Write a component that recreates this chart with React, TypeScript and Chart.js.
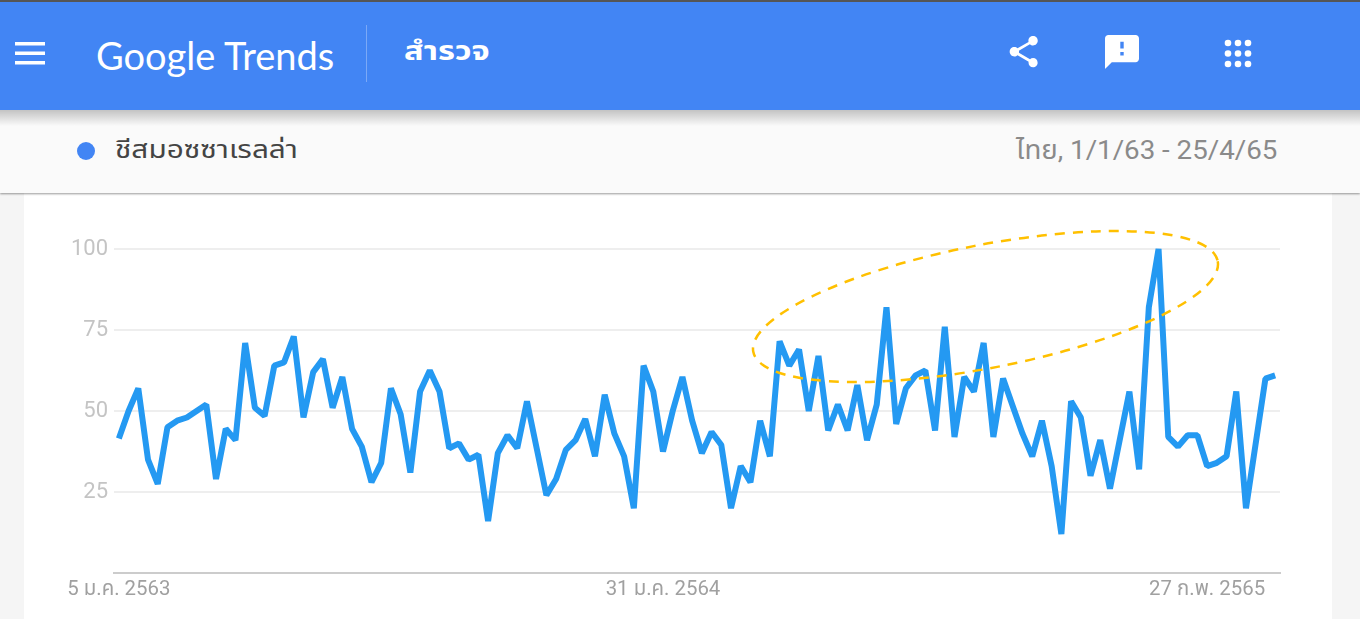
import React, { useEffect, useRef } from "react";
import { Chart, registerables } from "chart.js";

Chart.register(...registerables);

const SERIES_NAME = "ชีสมอซซาเรลล่า";
const DATE_RANGE = "ไทย, 1/1/63 - 25/4/65";
const TICK_LABELS: Record<number, string> = {
  0: "5 ม.ค. 2563",
  56: "31 ม.ค. 2564",
  112: "27 ก.พ. 2565",
};
const VALUES = [
  41.5, 50, 57, 35, 27.5, 45, 47, 48, 50, 52,
  29, 44.5, 41, 71, 51, 48.5, 64, 65, 73, 48,
  62, 66, 51, 60.5, 44.5, 39, 28, 34, 57, 49,
  31, 56, 62.5, 56, 38.5, 40, 35, 36.5, 16, 37,
  42.5, 38.5, 53, 38.5, 24, 29, 38, 41, 47.5, 36,
  55, 43, 36, 20, 64, 56, 37.5, 50, 60.5, 47,
  37, 43.5, 39.5, 20, 33, 28, 47, 36, 71.5, 64,
  69, 50, 67, 44, 52, 44, 58, 41, 52, 82,
  46, 57, 61, 62.5, 44, 76, 42, 60.5, 56, 71,
  42, 60, 51.5, 43, 36, 47, 33, 12, 53, 48,
  30, 41, 26, 41, 56, 32, 82, 100, 42, 39,
  42.5, 42.5, 33, 34, 36, 56, 20, 40, 60, 61,
];
const WEEKS = VALUES.map((_, i) => TICK_LABELS[i] ?? "");
const Y_TICKS = [0, 25, 50, 75, 100];

const THAI = 'Roboto, "Noto Sans", "Noto Sans Thai", "DejaVu Sans", sans-serif';

export default function App() {
  const ref = useRef<HTMLCanvasElement>(null);

  useEffect(() => {
    document.body.style.margin = "0";
    document.body.style.overflow = "hidden";
    const chart = new Chart(ref.current!, {
      type: "line",
      data: {
        labels: WEEKS,
        datasets: [
          {
            label: SERIES_NAME,
            data: VALUES,
            borderColor: "#2499F2",
            borderWidth: 6,
            borderJoinStyle: "bevel",
            pointRadius: 0,
            tension: 0,
            clip: false,
          } as any,
        ],
      },
      options: {
        animation: false,
        responsive: false,
        layout: { padding: { top: 249, right: 80, left: 0, bottom: 0 } },
        plugins: { legend: { display: false }, tooltip: { enabled: false } },
        scales: {
          x: {
            type: "category",
            offset: true,
            afterFit: (s: any) => {
              s.height = 46;
            },
            grid: { display: false, drawTicks: false },
            border: { color: "#cccccc", width: 2 },
            ticks: {
              autoSkip: false,
              maxRotation: 0,
              minRotation: 0,
              padding: 5,
              color: "#a0a0a0",
              font: { family: THAI, size: 20.4 },
              callback: (_v: any, i: number) => TICK_LABELS[i] ?? "",
            },
          },
          y: {
            min: 0,
            max: 100,
            afterBuildTicks: (s: any) => {
              s.ticks = Y_TICKS.map((value) => ({ value }));
            },
            afterFit: (s: any) => {
              s.width = 114;
            },
            grid: {
              drawTicks: false,
              lineWidth: 2,
              color: (c: any) => (c.tick.value === 0 ? "transparent" : "#eeeeee"),
            },
            border: { display: false },
            ticks: {
              padding: 6,
              color: "#c4c4c4",
              font: { family: THAI, size: 22 },
              callback: (v: any) => (v === 0 ? "" : String(v)),
            },
          },
        },
      },
    });
    return () => chart.destroy();
  }, []);

  const abs = (o: React.CSSProperties): React.CSSProperties => ({ position: "absolute", ...o });

  return (
    <div style={abs({ left: 0, top: 0, width: 1360, height: 619, overflow: "hidden", background: "#f5f5f5", fontFamily: THAI })}>
      <div style={abs({ left: 24, top: 193, width: 1308, height: 426, background: "#ffffff" })} />
      <div style={abs({ left: 0, top: 110, width: 1360, height: 83, background: "#fafafa", boxShadow: "0 1px 2px rgba(0,0,0,0.4)" })} />
      <div style={abs({ left: 0, top: 110, width: 1360, height: 16, background: "linear-gradient(rgba(0,0,0,0.22), rgba(0,0,0,0))" })} />
      <div style={abs({ left: 0, top: 0, width: 1360, height: 110, background: "#4285f4" })} />
      <div style={abs({ left: 0, top: 0, width: 1360, height: 2, background: "#555555" })} />

      <svg width={1360} height={110} style={abs({ left: 0, top: 0 })}>
        <g fill="#ffffff">
          <rect x={15} y={42} width={30} height={3.5} />
          <rect x={15} y={51.5} width={30} height={3.5} />
          <rect x={15} y={61} width={30} height={3.5} />
          <path transform="translate(1005 33) scale(1.56)" d="M18 16.08c-.76 0-1.44.3-1.96.77L8.91 12.7c.05-.23.09-.46.09-.7s-.04-.47-.09-.7l7.05-4.11c.54.5 1.25.81 2.04.81 1.66 0 3-1.34 3-3s-1.34-3-3-3-3 1.34-3 3c0 .24.04.47.09.7L8.04 9.81C7.5 9.31 6.79 9 6 9c-1.66 0-3 1.34-3 3s1.34 3 3 3c.79 0 1.5-.31 2.04-.81l7.12 4.16c-.05.21-.08.43-.08.65 0 1.61 1.31 2.92 2.92 2.92 1.61 0 2.92-1.31 2.92-2.92s-1.31-2.92-2.92-2.92z" />
          <path transform="translate(1101.6 31.6) scale(1.7)" d="M20 2H4c-1.1 0-1.99.9-1.99 2L2 22l4-4h14c1.1 0 2-.9 2-2V4c0-1.1-.9-2-2-2zm-7 12h-2v-2h2v2zm0-4h-2V6h2v4z" />
          {[1228, 1238, 1248].flatMap((cx) =>
            [43, 53.5, 64].map((cy) => <circle key={`${cx}-${cy}`} cx={cx} cy={cy} r={3.3} />)
          )}
        </g>
        <rect x={366} y={25} width={1} height={57} fill="rgba(255,255,255,0.3)" />
      </svg>

      <div style={abs({ left: 96, top: 32, fontFamily: "Lato, Roboto, sans-serif", fontSize: 38, lineHeight: "46px", color: "#ffffff", whiteSpace: "nowrap" })}>
        Google Trends
      </div>
      <div style={abs({ left: 404, top: 31, fontSize: 27, lineHeight: "40px", fontWeight: 700, color: "#ffffff", whiteSpace: "nowrap", transform: "scaleX(1.21)", transformOrigin: "left center" })}>
        สำรวจ
      </div>

      <div style={abs({ left: 77, top: 142, width: 18, height: 18, borderRadius: 9, background: "#4285f4" })} />
      <div style={abs({ left: 115, top: 132, fontSize: 25, lineHeight: "36px", color: "#444444", whiteSpace: "nowrap", transform: "scaleX(1.19)", transformOrigin: "left center" })}>
        {SERIES_NAME}
      </div>
      <div style={abs({ right: 83, top: 132, fontSize: 26, lineHeight: "36px", color: "#8a8a8a", whiteSpace: "nowrap", transform: "scaleX(1.065)", transformOrigin: "right center" })}>
        {DATE_RANGE}
      </div>

      <canvas ref={ref} width={1360} height={619} style={abs({ left: 0, top: 0 })} />

      <svg width={1360} height={619} style={abs({ left: 0, top: 0, pointerEvents: "none" })}>
        <ellipse
          cx={985.5}
          cy={306.5}
          rx={236.6}
          ry={61.5}
          transform="rotate(-11.05 985.5 306.5)"
          fill="none"
          stroke="#FFC000"
          strokeWidth={2.5}
          strokeDasharray="10 8"
        />
      </svg>
    </div>
  );
}
